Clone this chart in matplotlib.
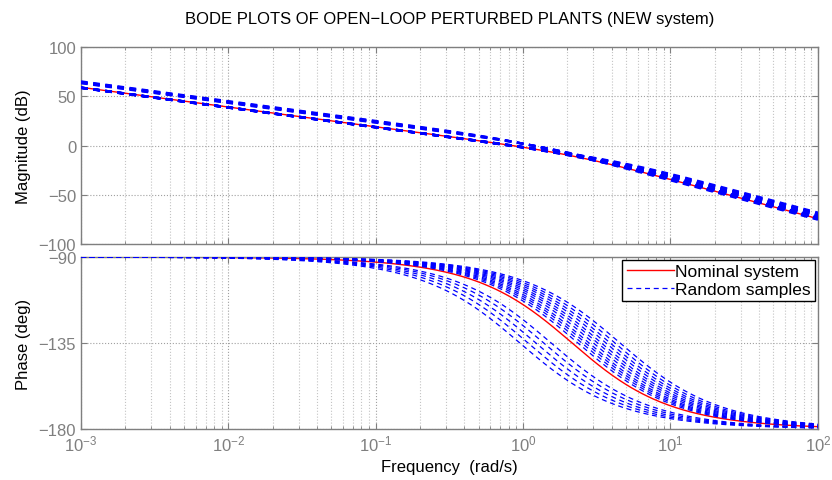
import numpy as np
import matplotlib
matplotlib.use("Agg")
import matplotlib.pyplot as plt
from matplotlib.ticker import LogLocator, FixedLocator, NullFormatter

plt.rcParams['font.family'] = ['Liberation Sans', 'DejaVu Sans']
plt.rcParams['mathtext.fontset'] = 'custom'
plt.rcParams['mathtext.rm'] = 'Liberation Sans'
plt.rcParams['mathtext.it'] = 'Liberation Sans:italic'
plt.rcParams['mathtext.bf'] = 'Liberation Sans:bold'

# ---- data: plant = K / (s (s/p + 1)) ----
nominal_gain = 0.9
nominal_pole = 2.15
sample_gains = [1.8, 1.7, 1.62, 1.52, 1.45,
                0.86, 0.84, 0.88, 0.85, 0.87, 0.83, 0.86, 0.88, 0.84, 0.85, 0.87]
sample_poles = [0.95, 1.08, 1.22, 1.38, 1.55,
                2.35, 2.5, 2.65, 2.8, 3.0, 3.2, 3.4, 3.65, 3.9, 4.2, 4.55]
mag_ticks = [-100, -50, 0, 50, 100]
phase_ticks = [-180, -135, -90]
title = "BODE PLOTS OF OPEN\u2212LOOP PERTURBED PLANTS (NEW system)"

w = np.logspace(-3, 2, 400)

def response(K, p):
    s = 1j * w
    G = K / (s * (s / p + 1))
    mag = 20 * np.log10(np.abs(G))
    ph = np.degrees(np.unwrap(np.angle(G)))
    ph = np.where(ph > 0, ph - 360, ph)
    return mag, ph

fig = plt.figure(figsize=(8.32, 4.81), dpi=100)
ax1 = fig.add_axes([0.0974, 0.4906, 0.8856, 0.4096])
ax2 = fig.add_axes([0.0974, 0.1060, 0.8856, 0.3576])

gray = '#7f7f7f'
nm, nph = response(nominal_gain, nominal_pole)
ax1.semilogx(w, nm, color='red', lw=1.0, zorder=2)
ax2.semilogx(w, nph, color='red', lw=1.0, zorder=2, label='Nominal system')
for i, (K, p) in enumerate(zip(sample_gains, sample_poles)):
    m, ph = response(K, p)
    ax1.semilogx(w, m, color='blue', lw=1.6, ls=(0, (3, 2.5)), zorder=3)
    ax2.semilogx(w, ph, color='blue', lw=0.9, ls=(0, (4, 3)), zorder=3,
                 label='Random samples' if i == 0 else None)

for ax in (ax1, ax2):
    ax.set_xlim(1e-3, 1e2)
    ax.xaxis.set_major_locator(LogLocator(base=10, numticks=10))
    ax.xaxis.set_minor_locator(LogLocator(base=10, subs=np.arange(2, 10), numticks=10))
    ax.grid(True, which='major', axis='both', ls=':', color='#a0a0a0', lw=0.8)
    ax.grid(True, which='minor', axis='x', ls=':', color='#c4c4c4', lw=0.8)
    ax.tick_params(which='both', direction='in', top=True, right=True, colors=gray,
                   labelcolor=gray, labelsize=12)
    ax.tick_params(which='major', length=4)
    ax.tick_params(which='minor', length=2)
    for sp in ax.spines.values():
        sp.set_color(gray)
        sp.set_linewidth(1.0)
    ax.set_axisbelow(True)

ax1.set_ylim(-100, 100)
ax1.yaxis.set_major_locator(FixedLocator(mag_ticks))
ax1.set_yticklabels([str(t).replace('-', '\u2212') for t in mag_ticks])
ax1.xaxis.set_major_formatter(NullFormatter())
ax1.xaxis.set_minor_formatter(NullFormatter())
ax1.set_ylabel('Magnitude (dB)', fontsize=12, color='black')
ax1.set_title(title, fontsize=12, color='black', pad=17)

ax2.set_ylim(-180, -90)
ax2.yaxis.set_major_locator(FixedLocator(phase_ticks))
ax2.set_yticklabels([str(t).replace('-', '\u2212') for t in phase_ticks])
ax2.set_ylabel('Phase (deg)', fontsize=12, color='black')
ax2.set_xlabel('Frequency  (rad/s)', fontsize=12, color='black', labelpad=4)
ax1.yaxis.set_label_coords(-0.068, 0.5)
ax2.yaxis.set_label_coords(-0.068, 0.5)

leg = ax2.legend(loc='upper right', fontsize=12.5, fancybox=False, framealpha=1,
                 edgecolor='black', borderpad=0.25, labelspacing=0.15,
                 handlelength=2.7, handletextpad=0.1, borderaxespad=0.15)
leg.get_frame().set_linewidth(1.0)

fig.savefig('out.png', dpi=100)
